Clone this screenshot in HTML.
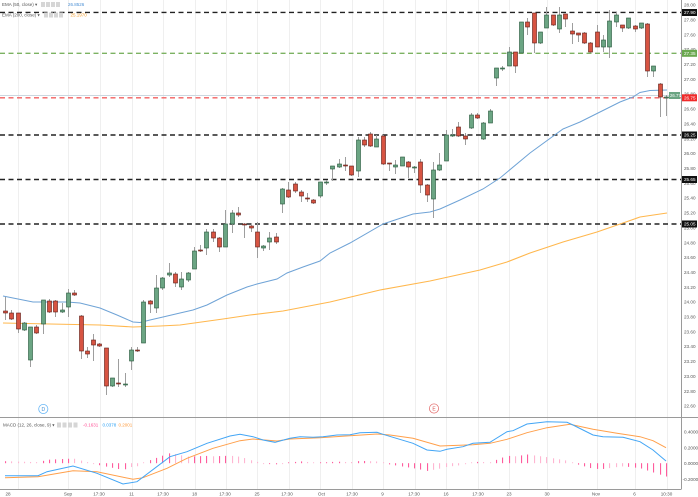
<!DOCTYPE html>
<html><head><meta charset="utf-8">
<style>
html,body{margin:0;padding:0;background:#fff;}
svg{display:block;font-family:"Liberation Sans","DejaVu Sans",sans-serif;}
</style></head><body>
<svg id="c" width="698" height="497" viewBox="0 0 698 497" xmlns="http://www.w3.org/2000/svg">
<rect width="698" height="497" fill="#fff"/>
<g id="grid" stroke="#efefef" stroke-width="1"></g>
<!-- horizontal level lines -->
<g fill="none">
  <line x1="0" y1="95.5" x2="681" y2="95.5" stroke="#cdd7df" stroke-width="1"/>
  <line x1="0" y1="12.4" x2="681" y2="12.4" stroke="#222" stroke-width="1.4" stroke-dasharray="5,3.5"/>
  <line x1="0" y1="53.3" x2="681" y2="53.3" stroke="#7cb262" stroke-width="1.3" stroke-dasharray="5,3.5"/>
  <line x1="0" y1="97.8" x2="681" y2="97.8" stroke="#f26060" stroke-width="1.4" stroke-dasharray="5,3.5"/>
  <line x1="0" y1="135" x2="681" y2="135" stroke="#222" stroke-width="1.4" stroke-dasharray="5,3.5"/>
  <line x1="0" y1="179.5" x2="681" y2="179.5" stroke="#222" stroke-width="1.4" stroke-dasharray="5,3.5"/>
  <line x1="0" y1="224" x2="681" y2="224" stroke="#222" stroke-width="1.4" stroke-dasharray="5,3.5"/>
</g>
<g id="ema" fill="none"></g>
<g id="candles"></g>
<g id="macd"></g>

<!-- axes -->
<line x1="681.5" y1="0" x2="681.5" y2="489" stroke="#9a9a9a" stroke-width="1"/>
<line x1="0" y1="417.5" x2="698" y2="417.5" stroke="#9a9a9a" stroke-width="1"/>
<line x1="0" y1="489.5" x2="681.5" y2="489.5" stroke="#9a9a9a" stroke-width="1"/>

<!-- legend -->
<g font-size="4.5" fill="#555">
  <text x="2" y="6.2">EMA (50, close) ▾</text>
  <rect x="41" y="2" width="4" height="5" fill="#d6d6d6"/>
  <rect x="46" y="2" width="4" height="5" fill="#d6d6d6"/>
  <rect x="51" y="2" width="4" height="5" fill="#d6d6d6"/>
  <rect x="56" y="2" width="4" height="5" fill="#d6d6d6"/>
  <text x="68" y="6.2" fill="#4a8fd4">26.8526</text>
  <text x="2" y="16.7">EMA (200, close) ▾</text>
  <rect x="44" y="12.5" width="4" height="5" fill="#d6d6d6"/>
  <rect x="49" y="12.5" width="4" height="5" fill="#d6d6d6"/>
  <rect x="54" y="12.5" width="4" height="5" fill="#d6d6d6"/>
  <rect x="59" y="12.5" width="4" height="5" fill="#d6d6d6"/>
  <text x="70.5" y="16.7" fill="#f5a030">25.1970</text>
  <text x="3" y="426.7">MACD (12, 26, close, 9) ▾</text>
  <rect x="57" y="422.5" width="4" height="5" fill="#d6d6d6"/>
  <rect x="62.5" y="422.5" width="4" height="5" fill="#d6d6d6"/>
  <rect x="68" y="422.5" width="4" height="5" fill="#d6d6d6"/>
  <rect x="73.5" y="422.5" width="4" height="5" fill="#d6d6d6"/>
  <text x="83" y="426.7" fill="#ff4d94">-0.1631</text>
  <text x="102.5" y="426.7" fill="#2aa0f5">0.0378</text>
  <text x="118.5" y="426.7" fill="#ff9a3c">0.2001</text>
</g>

<!-- D / E markers -->
<circle cx="43.3" cy="409" r="4.6" fill="#fff" stroke="#64b5f6" stroke-width="0.8"/>
<text x="43.3" y="410.8" font-size="5" fill="#3d8fd6" text-anchor="middle">D</text>
<circle cx="434" cy="408.5" r="4.6" fill="#fff" stroke="#e57373" stroke-width="0.8"/>
<text x="434" y="410.3" font-size="5" fill="#d9534f" text-anchor="middle">E</text>

<!-- price axis labels -->
<g font-size="4.6" fill="#555">
<text x="684" y="6.6">28.00</text>
<text x="684" y="21.5">27.80</text>
<text x="684" y="36.3">27.60</text>
<text x="684" y="51.2">27.40</text>
<text x="684" y="66">27.20</text>
<text x="684" y="80.9">27.00</text>
<text x="684" y="95.7">26.80</text>
<text x="684" y="110.6">26.60</text>
<text x="684" y="125.4">26.40</text>
<text x="684" y="140.3">26.20</text>
<text x="684" y="155.1">26.00</text>
<text x="684" y="170">25.80</text>
<text x="684" y="184.9">25.60</text>
<text x="684" y="199.7">25.40</text>
<text x="684" y="214.6">25.20</text>
<text x="684" y="229.4">25.00</text>
<text x="684" y="244.3">24.80</text>
<text x="684" y="259.1">24.60</text>
<text x="684" y="274">24.40</text>
<text x="684" y="288.8">24.20</text>
<text x="684" y="303.7">24.00</text>
<text x="684" y="318.5">23.80</text>
<text x="684" y="333.4">23.60</text>
<text x="684" y="348.2">23.40</text>
<text x="684" y="363.1">23.20</text>
<text x="684" y="377.9">23.00</text>
<text x="684" y="392.8">22.80</text>
<text x="684" y="407.6">22.60</text>
</g>
<!-- price level boxes -->
<g font-size="4.6" fill="#fff">
<rect x="682" y="9" width="15" height="7" fill="#111"/><text x="684" y="14">27.90</text>
<rect x="682" y="49.8" width="15" height="7" fill="#6aa84f"/><text x="684" y="54.9">27.35</text>
<rect x="682" y="94.3" width="15" height="7" fill="#f02a2a"/><text x="684" y="99.4">26.75</text>
<rect x="682" y="131.5" width="15" height="7" fill="#111"/><text x="684" y="136.6">26.25</text>
<rect x="682" y="176" width="15" height="7" fill="#111"/><text x="684" y="181.1">25.65</text>
<rect x="682" y="220.5" width="15" height="7" fill="#111"/><text x="684" y="225.6">25.05</text>
<rect x="669" y="92" width="11" height="7" fill="#6ba583"/><text x="670" y="97.2" font-size="4.3">26.77</text>
</g>
<!-- MACD axis labels -->
<g font-size="4.6" fill="#555">
<text x="684" y="433.6">0.4000</text>
<text x="684" y="449.6">0.2000</text>
<text x="684" y="465">0.0000</text>
<text x="682.6" y="481">-0.2000</text>
</g>
<!-- time labels -->
<g font-size="4.6" fill="#555" text-anchor="middle">
<text x="8" y="495.3">28</text>
<text x="68" y="495.3">Sep</text>
<text x="99" y="495.3">17:30</text>
<text x="131.5" y="495.3">11</text>
<text x="163" y="495.3">17:30</text>
<text x="194.5" y="495.3">18</text>
<text x="225" y="495.3">17:30</text>
<text x="257" y="495.3">25</text>
<text x="287" y="495.3">17:30</text>
<text x="321.5" y="495.3">Oct</text>
<text x="352" y="495.3">17:30</text>
<text x="382.5" y="495.3">9</text>
<text x="414" y="495.3">17:30</text>
<text x="446" y="495.3">16</text>
<text x="478" y="495.3">17:30</text>
<text x="509" y="495.3">23</text>
<text x="547" y="495.3">30</text>
<text x="596" y="495.3">Nov</text>
<text x="634.5" y="495.3">6</text>
<text x="666.5" y="495.3">10:30</text>
</g>
</svg>
<script>
(function(){
var NS="http://www.w3.org/2000/svg";
function el(tag,a,p){var e=document.createElementNS(NS,tag);for(var k in a)e.setAttribute(k,a[k]);p.appendChild(e);return e;}
var grid=document.getElementById('grid');
[18,68,100,132,163,195,226,257,289,320,352,383,415,446,478,509,547,597,635,667].forEach(function(x){
  el('line',{x1:x+0.5,y1:0,x2:x+0.5,y2:489,stroke:'#efefef','stroke-width':1},grid);
});
var ema=document.getElementById('ema');
var blue=[[3,296],[33,302],[67,302],[80,303],[100,308],[117,315],[133,322],[140,322.5],[150,320],[163,317],[180,313],[193,310],[207,305],[227,295],[247,287],[257,284],[277,279],[287,273],[303,267],[320,261],[330,253],[350,243],[383,224],[413,214],[430,212],[440,209],[460,200],[483,189],[500,178],[530,153],[563,129],[580,122],[600,112],[620,102],[633,97],[640,92.5],[650,90.5],[667,90]];
var orange=[[3,323],[50,324],[100,325],[133,327],[160,326],[180,325],[223,319],[250,315],[283,311],[330,302],[380,290],[430,281],[480,270],[507,262],[530,253],[563,242],[597,232],[623,223],[640,217],[667,213]];
function pts(a){return a.map(function(p){return p[0]+','+p[1];}).join(' ');}
el('polyline',{points:pts(orange),stroke:'#ffb74d','stroke-width':1.1,fill:'none'},ema);
el('polyline',{points:pts(blue),stroke:'#6fa3d6','stroke-width':1,fill:'none'},ema);

var D=[
[0,311,313,297,320],[0,313,319,310,320],[0,313,329,313,333],[1,323,330,322,331],[1,327,360,327,367],
[0,327,333,325,334],[1,300,324,300,334],[0,301,312,299,313],[0,301,312,300,317],[1,310,312,303,313],
[1,293,307,289,317],[0,293,295,290,296],[0,316,351,315,359],[0,351,354,347,358],[0,340,345,334,361],
[0,344,346,343,347],[0,348,386,348,395],[1,378,386,378,387],[0,383,384,359,387],[1,384,385,373,387],
[1,350,361,347,370],[0,350,351,347,352],[1,302,343,300,343],[0,301,304,300,313],[1,288,308,275,313],
[1,278,288,277,290],[1,273,275,263,277],[0,274,283,272,287],[1,279,287,272,290],[1,273,280,272,282],
[1,251,269,247,269],[0,250,251,245,252],[1,232,248,229,255],[0,232,238,229,242],[0,238,247,237,252],
[1,224,247,210,247],[1,213,224,210,233],[0,213,215,207,217],[0,224,225,223,238],[0,226,228,225,232],
[0,232,247,222,258],[1,246,248,245,251],[1,238,242,232,250],[0,237,242,233,244],[1,189,204,188,213],
[0,190,197,182,198],[0,184,191,182,193],[0,192,196,190,202],[0,198,199,193,202],[0,200,203,199,204],
[1,182,196,182,198],[1,182,183,180,185],[1,166,169,166,181],[1,164,167,159,168],[0,165,166,157,171],
[0,166,175,166,176],[1,140,171,137,177],[0,140,145,137,147],[0,134,146,132,147],[1,139,147,135,147],
[0,136,164,135,165],[0,163,164,163,171],[1,165,167,160,174],[1,157,166,157,166],[0,162,167,161,178],
[1,167,168,166,173],[0,162,185,159,193],[0,185,195,184,202],[1,170,199,162,218],[1,165,170,153,171],
[1,135,161,130,161],[1,135,136,129,137],[0,127,136,122,137],[0,136,139,133,145],[1,115,128,113,129],
[0,115,118,113,119],[1,123,139,122,140],[1,111,123,109,123],[1,68,78,68,86],[1,68,69,66,71],
[1,52,66,47,66],[0,52,66,52,73],[1,22,53,22,53],[0,22,27,18,35],[0,13,43,13,53],
[1,32,43,32,44],[1,15,28,7,28],[0,15,25,15,26],[1,15,29,7,33],[0,14,19,14,27],
[0,31,34,23,44],[0,33,35,33,42],[0,33,43,32,44],[0,43,52,42,53],[0,32,47,25,47],
[1,40,47,35,52],[1,21,47,10,58],[1,15,22,12,27],[0,25,28,25,32],[1,18,28,18,29],
[0,26,29,25,32],[1,23,28,23,29],[0,24,71,23,77],[1,66,71,66,77],[0,84,97,83,117],
[1,97,98,95,116]];
var cg=document.getElementById('candles');
var xs=[];
D.forEach(function(d,i){
  var x=Math.round(5+i*6.295); xs.push(x);
  el('line',{x1:x+0.5,y1:d[3],x2:x+0.5,y2:d[4],stroke:'#9e9e9e','stroke-width':1},cg);
  var h=Math.max(d[2]-d[1],1);
  el('rect',{x:x-1.5,y:d[1],width:4,height:h,fill:d[0]?'#6ba583':'#d75442',stroke:d[0]?'#225437':'#5b1a13','stroke-width':0.6},cg);
});

var mb=[[5,475.7],[38,475.7],[47,471.7],[73,466],[97,473.3],[123,484],[137,481.7],[170,456.7],[187,451.7],[207,443.3],[230,436],[240,434.3],[253,436.7],[263,440],[275,442.3],[290,438.3],[300,436.7],[313,437.3],[323,436.7],[337,435],[350,434.7],[360,432.7],[377,432.3],[383,434.3],[413,443.3],[427,450],[440,451.3],[447,449.3],[463,446.7],[473,443.3],[490,442.3],[507,431.7],[513,430.7],[527,424],[547,421.7],[567,422.3],[573,425],[593,435],[603,436.7],[623,437.3],[640,441.7],[653,450],[666,461]];
var mo=[[5,477.7],[38,476.7],[73,470.7],[97,471.7],[133,479.3],[143,477.7],[167,468.3],[187,458.3],[213,448.3],[240,440.7],[253,439],[277,441],[290,439],[320,437.7],[350,435.7],[377,434],[390,435],[413,438.3],[440,446],[473,444.7],[490,443.3],[507,439.3],[527,432.7],[547,427.7],[570,424.3],[593,429.3],[617,433.3],[640,436.7],[653,440.7],[666,447.7]];
function interp(p,x){if(x<=p[0][0])return p[0][1];for(var k=1;k<p.length;k++){if(x<=p[k][0]){var x0=p[k-1][0],y0=p[k-1][1],x1=p[k][0],y1=p[k][1];return y0+(y1-y0)*(x-x0)/(x1-x0);}}return p[p.length-1][1];}
var mg=document.getElementById('macd');
var zero=463.2, prev=0;
xs.forEach(function(x){
  var h=interp(mb,x)-interp(mo,x);
  var v=-h;
  var col=(Math.abs(v)>=Math.abs(prev))?'#ff5c9d':'#ffb6d2';
  prev=v;
  var hh=Math.abs(h); if(hh<0.9)hh=0.9;
  var y=h>=0?zero:zero-hh;
  el('rect',{x:x,y:y,width:1.1,height:hh,fill:col},mg);
});
el('polyline',{points:pts(mo),stroke:'#ff9f4a','stroke-width':1,fill:'none'},mg);
el('polyline',{points:pts(mb),stroke:'#42a5f5','stroke-width':1,fill:'none'},mg);
})();
</script>
</body></html>
